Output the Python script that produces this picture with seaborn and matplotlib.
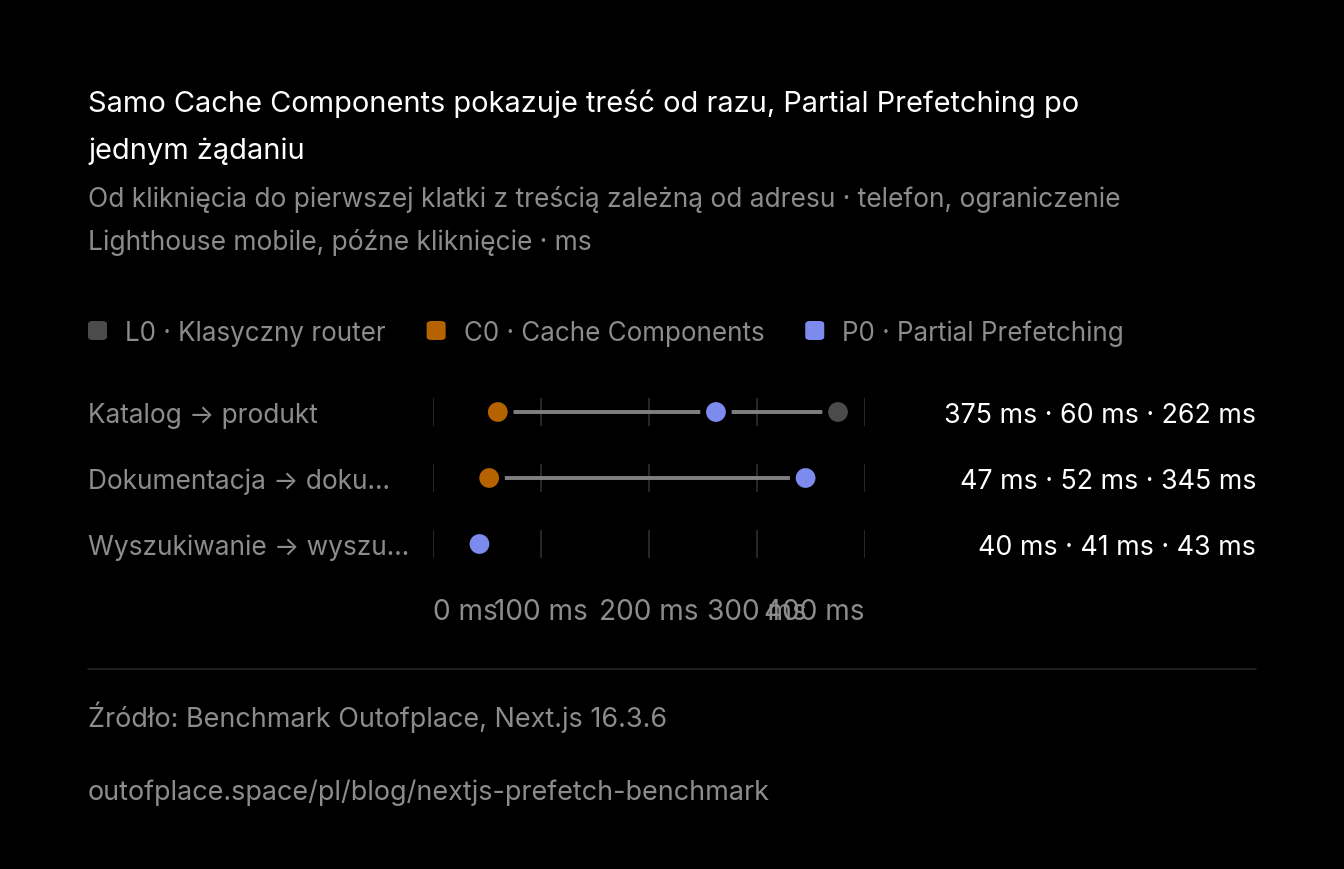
import matplotlib
matplotlib.use("Agg")
import matplotlib.pyplot as plt
import numpy as np
import pandas as pd
import seaborn as sns

# chart data
routes = ["Katalog → produkt", "Dokumentacja → doku…", "Wyszukiwanie → wyszu…"]
series = ["L0", "C0", "P0"]
series_names = ["L0 · Klasyczny router", "C0 · Cache Components", "P0 · Partial Prefetching"]
l0_ms = [375, 47, 40]
c0_ms = [60, 52, 41]
p0_ms = [262, 345, 43]
x_ticks = [0, 100, 200, 300, 400]
x_tick_labels = ["0 ms", "100 ms", "200 ms", "300 ms", "400 ms"]

title_lines = ["Samo Cache Components pokazuje treść od razu, Partial Prefetching po",
               "jednym żądaniu"]
subtitle_lines = ["Od kliknięcia do pierwszej klatki z treścią zależną od adresu · telefon, ograniczenie",
                  "Lighthouse mobile, późne kliknięcie · ms"]
source = "Źródło: Benchmark Outofplace, Next.js 16.3.6"
url = "outofplace.space/pl/blog/nextjs-prefetch-benchmark"

palette = {"L0": "#4b4b4b", "C0": "#b56200", "P0": "#7d8bef"}
BG = "#000000"
GREY = "#8c8c8c"
W, H = 1344, 870

sns.set_theme(style="dark")
plt.rcParams["font.family"] = ["Inter", "DejaVu Sans"]

def pt(px):
    return px * 72 / 100

def fx(x):
    return x / W

def fy(y):
    return 1 - y / H

rows = []
for i, r in enumerate(routes):
    for s, vals in zip(series, [l0_ms, c0_ms, p0_ms]):
        rows.append({"route": r, "row": i, "series": s, "ms": vals[i]})
df = pd.DataFrame(rows)

fig = plt.figure(figsize=(W / 100, H / 100), dpi=100, facecolor=BG)

# header, one line at a time
for line, y in zip(title_lines, [112, 159]):
    fig.text(fx(88), fy(y), line, color="white", fontsize=pt(29), va="baseline")
for line, y in zip(subtitle_lines, [207, 250]):
    fig.text(fx(88), fy(y), line, color=GREY, fontsize=pt(26.4), va="baseline")

# legend drawn by hand
renderer = fig.canvas.get_renderer()
x = 88
for s, name in zip(series, series_names):
    fig.patches.append(matplotlib.patches.FancyBboxPatch(
        (fx(x), fy(341)), 19 / W, 19 / H, boxstyle="round,pad=0,rounding_size=0.0035",
        transform=fig.transFigure, facecolor=palette[s], edgecolor="none"))
    t = fig.text(fx(x + 37), fy(341), name, color=GREY, fontsize=pt(26), va="baseline")
    bb = t.get_window_extent(renderer)
    x = bb.x1 + 41

# dumbbell axes
ax = fig.add_axes([fx(433), fy(575), (865 - 433) / W, (575 - 383) / H])
ax.set_facecolor("none")
for sp in ax.spines.values():
    sp.set_visible(False)
ax.grid(False)

n = len(routes)
for i in range(n):
    ax.vlines(x_ticks, i - 0.215, i + 0.215, color="#262626", lw=1.5, zorder=1)
lo = df.groupby("row")["ms"].min()
hi = df.groupby("row")["ms"].max()
ax.hlines(lo.index, lo.values, hi.values, color="#808080", lw=2.8, zorder=2)

sns.scatterplot(data=df, x="ms", y="row", hue="series", hue_order=series,
                palette=palette, s=340, edgecolor=BG, linewidth=4.2,
                legend=False, ax=ax, zorder=3)

ax.set_xlim(0, 400)
ax.set_ylim(n - 1 + 0.4545, -0.4545)
ax.set_yticks([])
ax.set_ylabel("")
ax.set_xlabel("")
ax.set_xticks(x_ticks, x_tick_labels)
ax.tick_params(axis="x", length=0, pad=pt(24), labelsize=pt(28), labelcolor=GREY)
labels = ax.get_xticklabels()
labels[0].set_ha("left")
labels[-1].set_ha("right")

# row labels and values
for i, r in enumerate(routes):
    y = fy(413 + 66 * i)
    fig.text(fx(88), y, r, color=GREY, fontsize=pt(26.3), va="center_baseline")
    fig.text(fx(1256), y, f"{l0_ms[i]} ms · {c0_ms[i]} ms · {p0_ms[i]} ms",
             color="white", fontsize=pt(26.8), va="center_baseline", ha="right")

# footer
fig.add_artist(plt.Line2D([fx(88), fx(1256)], [fy(670), fy(670)], color="#262626", lw=1.2))
fig.text(fx(88), fy(727), source, color=GREY, fontsize=pt(27), va="baseline")
fig.text(fx(88), fy(800), url, color=GREY, fontsize=pt(27), va="baseline")

fig.savefig("out.png", dpi=100, facecolor=BG)
